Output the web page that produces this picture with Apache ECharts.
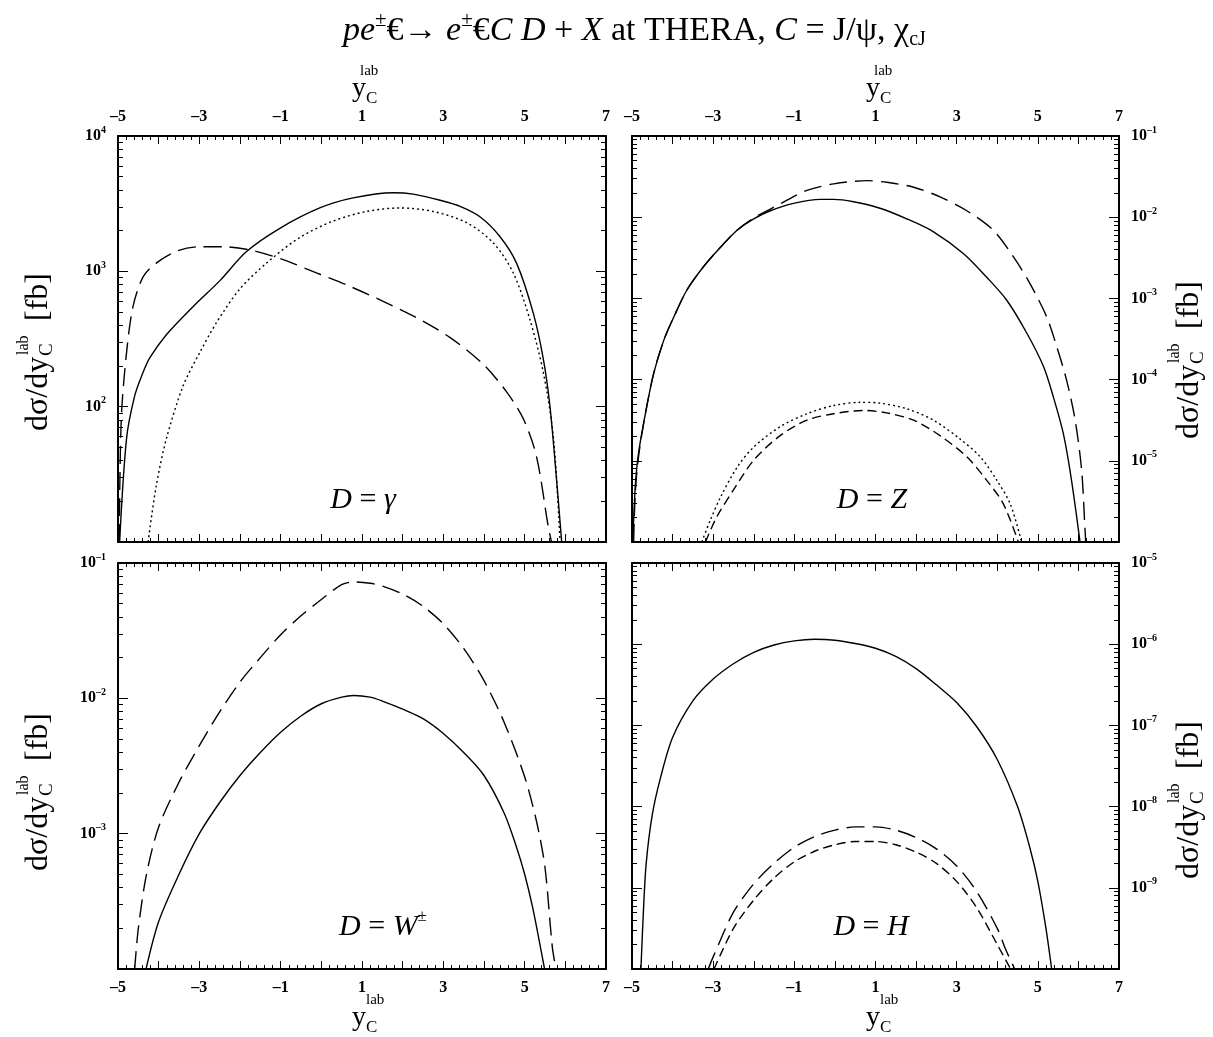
<!DOCTYPE html>
<html>
<head>
<meta charset="utf-8">
<script src="https://cdn.jsdelivr.net/npm/echarts@6/dist/echarts.min.js"></script>
<style>
html, body { margin: 0; padding: 0; background: #fff; }
#main { width: 1213px; height: 1037px; }
</style>
</head>
<body>
<div id="main"></div>
<script>
// ---- D = gamma (top left) ----
const gamSolidX = [-4.96, -4.79, -4.59, -4.40, -4.22, -3.81, -3.15, -2.50, -1.84, -1.02, -0.04, 0.78, 1.77, 2.26, 2.92, 3.41, 3.90, 4.39, 4.80, 5.21, 5.46, 5.62, 5.79, 5.91];
const gamSolidY = [10, 58, 120, 174, 229, 340, 550, 850, 1400, 2080, 2940, 3490, 3810, 3720, 3350, 3020, 2530, 1810, 1150, 493, 224, 102, 27.6, 10];
const gamDotX = [-4.26, -4.06, -3.81, -3.40, -2.99, -2.58, -2.01, -1.35, -0.53, 0.29, 1.11, 1.93, 2.75, 3.57, 4.23, 4.72, 5.13, 5.46, 5.71, 5.87];
const gamDotY = [10, 26, 58, 142, 251, 417, 737, 1150, 1780, 2350, 2770, 2940, 2770, 2290, 1620, 973, 439, 178, 58, 10];
const gamDashX = [-4.97, -4.92, -4.79, -4.63, -4.38, -4.06, -3.56, -2.99, -2.42, -1.76, -0.94, -0.12, 0.70, 1.52, 2.34, 3.16, 3.98, 4.56, 4.97, 5.29, 5.58, 5.66];
const gamDashY = [10, 81, 251, 550, 915, 1150, 1410, 1520, 1520, 1440, 1220, 973, 775, 600, 454, 325, 206, 128, 81, 43, 13, 10];

// ---- D = Z (top right) ----
const zSolidX = [-4.98, -4.92, -4.84, -4.67, -4.47, -4.22, -3.97, -3.65, -3.24, -2.82, -2.41, -2.00, -1.59, -1.02, -0.36, -0.03, 0.46, 1.11, 1.77, 2.43, 3.17, 3.74, 4.23, 4.73, 5.14, 5.38, 5.63, 5.83, 6.04];
const zSolidY = [1e-6, 4.79e-6, 1.23e-5, 3.80e-5, 1.17e-4, 3.02e-4, 5.89e-4, 1.26e-3, 2.45e-3, 4.27e-3, 6.92e-3, 9.55e-3, 1.20e-2, 1.48e-2, 1.66e-2, 1.66e-2, 1.55e-2, 1.29e-2, 9.55e-3, 6.61e-3, 3.55e-3, 1.82e-3, 9.55e-4, 3.72e-4, 1.45e-4, 6.17e-5, 2.14e-5, 5.75e-6, 1e-6];
const zDashX = [-4.96, -4.92, -4.84, -4.67, -4.47, -4.22, -3.97, -3.65, -3.24, -2.82, -2.41, -2.00, -1.59, -1.18, -0.69, -0.03, 0.79, 1.28, 1.94, 2.59, 3.25, 3.90, 4.40, 4.81, 5.22, 5.47, 5.71, 5.92, 6.08, 6.16, 6.18];
const zDashY = [1e-6, 3.98e-6, 1.12e-5, 3.80e-5, 1.17e-4, 3.02e-4, 5.89e-4, 1.26e-3, 2.45e-3, 4.27e-3, 6.92e-3, 9.77e-3, 1.26e-2, 1.62e-2, 2.14e-2, 2.57e-2, 2.82e-2, 2.69e-2, 2.34e-2, 1.78e-2, 1.20e-2, 6.92e-3, 3.24e-3, 1.51e-3, 5.89e-4, 2.51e-4, 9.77e-5, 3.16e-5, 7.59e-6, 1.51e-6, 1e-6];
const zDotX = [-3.28, -3.07, -2.82, -2.41, -2.00, -1.35, -0.69, -0.03, 0.62, 1.11, 1.77, 2.43, 3.08, 3.58, 3.99, 4.32, 4.60];
const zDotY = [1e-6, 1.86e-6, 3.55e-6, 8.32e-6, 1.48e-5, 2.63e-5, 3.80e-5, 4.79e-5, 5.25e-5, 5.13e-5, 4.37e-5, 3.16e-5, 1.86e-5, 1.12e-5, 5.75e-6, 2.95e-6, 1e-6];
const zShortX = [-3.19, -2.91, -2.50, -2.00, -1.35, -0.69, -0.03, 0.70, 1.28, 1.94, 2.59, 3.25, 3.74, 4.15, 4.52];
const zShortY = [1e-6, 2.04e-6, 4.37e-6, 1.02e-5, 2.04e-5, 3.16e-5, 3.80e-5, 4.17e-5, 3.89e-5, 3.16e-5, 2.04e-5, 1.12e-5, 5.75e-6, 2.95e-6, 1e-6];

// ---- D = W (bottom left) ----
const wSolidX = [-4.31, -4.0, -3.5, -3.0, -2.5, -2.0, -1.5, -1.0, -0.5, 0, 0.5, 0.8, 1.2, 1.5, 2.0, 2.5, 3.0, 3.5, 4.0, 4.5, 4.8, 5.0, 5.2, 5.35, 5.49];
const wSolidY = [1e-4, 2.24e-4, 5.01e-4, 1.0e-3, 1.70e-3, 2.69e-3, 3.98e-3, 5.62e-3, 7.41e-3, 9.12e-3, 1.02e-2, 1.05e-2, 1.02e-2, 9.55e-3, 8.32e-3, 7.08e-3, 5.50e-3, 3.98e-3, 2.69e-3, 1.41e-3, 7.94e-4, 5.01e-4, 2.82e-4, 1.66e-4, 1e-4];
const wDashX = [-4.59, -4.5, -4.3, -4.0, -3.5, -3.0, -2.5, -2.0, -1.5, -1.0, -0.5, 0, 0.5, 0.8, 1.2, 1.5, 2.0, 2.5, 3.0, 3.5, 4.0, 4.5, 5.0, 5.3, 5.5, 5.68, 5.77];
const wDashY = [1e-4, 2.0e-4, 5.0e-4, 1.12e-3, 2.40e-3, 4.47e-3, 7.94e-3, 1.32e-2, 2.0e-2, 2.95e-2, 4.07e-2, 5.37e-2, 6.92e-2, 7.24e-2, 7.08e-2, 6.76e-2, 5.89e-2, 4.79e-2, 3.55e-2, 2.34e-2, 1.35e-2, 6.61e-3, 2.63e-3, 1.20e-3, 5.62e-4, 1.45e-4, 1e-4];

// ---- D = H (bottom right) ----
const hSolidX = [-4.78, -4.72, -4.65, -4.5, -4.3, -4.0, -3.5, -3.0, -2.5, -2.0, -1.5, -1.0, -0.5, 0, 0.5, 1.0, 1.5, 2.0, 2.5, 3.0, 3.5, 4.0, 4.5, 4.8, 5.0, 5.2, 5.34];
const hSolidY = [1e-10, 5.0e-10, 2.0e-9, 7.94e-9, 2.24e-8, 7.08e-8, 2.0e-7, 3.72e-7, 5.75e-7, 7.94e-7, 9.77e-7, 1.10e-6, 1.15e-6, 1.12e-6, 1.02e-6, 8.91e-7, 7.08e-7, 5.01e-7, 3.16e-7, 1.91e-7, 9.55e-8, 3.80e-8, 1.0e-8, 3.16e-9, 1.20e-9, 3.16e-10, 1e-10];
const hDashX = [-3.12, -3.0, -2.5, -2.0, -1.5, -1.0, -0.5, 0, 0.5, 1.0, 1.5, 2.0, 2.5, 3.0, 3.5, 4.0, 4.2, 4.43];
const hDashY = [1e-10, 1.41e-10, 5.01e-10, 1.12e-9, 2.0e-9, 3.16e-9, 4.27e-9, 5.13e-9, 5.62e-9, 5.62e-9, 5.13e-9, 4.17e-9, 3.02e-9, 1.86e-9, 8.91e-10, 3.16e-10, 1.78e-10, 1e-10];
const hShortX = [-2.98, -2.5, -2.0, -1.5, -1.0, -0.5, 0, 0.5, 1.0, 1.5, 2.0, 2.5, 3.0, 3.5, 4.0, 4.33];
const hShortY = [1e-10, 3.16e-10, 7.08e-10, 1.32e-9, 2.09e-9, 2.82e-9, 3.39e-9, 3.72e-9, 3.72e-9, 3.39e-9, 2.75e-9, 2.0e-9, 1.20e-9, 5.62e-10, 2.0e-10, 1e-10];

// axis ranges of the four panels
const xRange = [-5, 7];
const yRanges = [[1e1, 1e4], [1e-6, 1e-1], [1e-4, 1e-1], [1e-10, 1e-5]];
const panelLabels = ['γ', 'Z', 'W', 'H'];

const FONT = '"Liberation Serif", "Times New Roman", serif';
const chart = echarts.init(document.getElementById('main'));

const grids = [
    { left: 118, top: 136, width: 488, height: 406 },
    { left: 632, top: 136, width: 487, height: 406 },
    { left: 118, top: 563, width: 488, height: 406 },
    { left: 632, top: 563, width: 487, height: 406 }
];

function xLabel(v) {
    if (Math.abs(Math.round(v) % 2) !== 1) return '';
    return v < 0 ? '\u2013' + (-v) : String(v);
}
function powLabel(v) {
    const n = Math.round(Math.log10(v));
    return '{b|10}{s|' + (n < 0 ? '\u2013' + (-n) : n) + '}';
}

const xAxes = [], yAxes = [];
grids.forEach(function (g, gi) {
    const topRow = gi < 2;
    ['bottom', 'top'].forEach(function (pos) {
        xAxes.push({
            type: 'value', gridIndex: gi, position: pos,
            min: xRange[0], max: xRange[1], interval: 1,
            axisLine: { show: true, onZero: false, lineStyle: { color: '#000', width: 2 } },
            axisTick: { show: true, inside: true, length: 8, lineStyle: { color: '#000', width: 1 } },
            minorTick: { show: true, splitNumber: 5, length: 4, lineStyle: { color: '#000', width: 1 } },
            splitLine: { show: false },
            axisLabel: {
                show: (pos === 'top') === topRow,
                margin: 11, formatter: xLabel,
                color: '#000', fontFamily: FONT, fontWeight: 'bold', fontSize: 16
            }
        });
    });
    const side = gi % 2 === 0 ? 'left' : 'right';
    ['left', 'right'].forEach(function (pos) {
        yAxes.push({
            type: 'log', logBase: 10, gridIndex: gi, position: pos,
            min: yRanges[gi][0], max: yRanges[gi][1],
            axisLine: { show: true, onZero: false, lineStyle: { color: '#000', width: 2 } },
            axisTick: { show: true, inside: true, length: 10, lineStyle: { color: '#000', width: 1 } },
            minorTick: { show: true, splitNumber: 9, length: 5, lineStyle: { color: '#000', width: 1 } },
            splitLine: { show: false },
            axisLabel: {
                show: pos === side, showMinLabel: false, margin: 12,
                formatter: powLabel,
                rich: {
                    b: { fontFamily: FONT, fontWeight: 'bold', fontSize: 16, color: '#000' },
                    s: { fontFamily: FONT, fontWeight: 'bold', fontSize: 10, color: '#000', padding: [0, 0, 12, 0] }
                }
            }
        });
    });
});

function curve(gi, xs, ys, dash) {
    return {
        type: 'line', xAxisIndex: gi * 2, yAxisIndex: gi * 2,
        data: xs.map(function (x, i) { return [x, ys[i]]; }),
        showSymbol: false, smooth: 0.3, silent: true,
        lineStyle: { color: '#000', width: 1.4, type: dash }
    };
}

const LONG = [18, 8], DOT = [2, 3], SHORT = [9, 5];
const series = [
    curve(0, gamSolidX, gamSolidY, 'solid'),
    curve(0, gamDotX, gamDotY, DOT),
    curve(0, gamDashX, gamDashY, LONG),
    curve(1, zSolidX, zSolidY, 'solid'),
    curve(1, zDashX, zDashY, LONG),
    curve(1, zDotX, zDotY, DOT),
    curve(1, zShortX, zShortY, SHORT),
    curve(2, wSolidX, wSolidY, 'solid'),
    curve(2, wDashX, wDashY, LONG),
    curve(3, hSolidX, hSolidY, 'solid'),
    curve(3, hDashX, hDashY, LONG),
    curve(3, hShortX, hShortY, SHORT)
];

function txt(text, x, y, size, style, align) {
    return {
        type: 'text', style: {
            text: text, x: x, y: y, fill: '#000',
            font: (style || '') + ' ' + size + 'px ' + FONT,
            textAlign: align || 'left', align: align || 'left',
            textVerticalAlign: 'middle', verticalAlign: 'middle'
        }
    };
}
// rotated y title: d sigma / dy_C^lab [fb]
function yName(cx, cy) {
    return {
        type: 'group', x: cx, y: cy, rotation: Math.PI / 2,
        children: [
            txt('dσ/dy', -79, 0, 32),
            txt('C', -4, 8, 19),
            txt('lab', -3, -15, 16),
            txt('[fb]', 31, 0, 32)
        ]
    };
}
// x title: y_C^lab
function xName(x, yMain, top) {
    return {
        type: 'group', x: x, y: yMain,
        children: [
            txt('y', 0, 0, 28),
            txt('C', 14, 10, 17),
            txt('lab', top ? 8 : 14, -18, 15)
        ]
    };
}
function panelLabel(gi, cx, cy) {
    const d = panelLabels[gi];
    return {
        type: 'text', x: cx, y: cy,
        style: {
            text: '{i|D}{r| = }{i|' + d + '}' + (d === 'W' ? '{s|±}' : ''),
            fill: '#000', align: 'center', verticalAlign: 'middle',
            textAlign: 'center', textVerticalAlign: 'middle',
            rich: {
                i: { fontFamily: FONT, fontStyle: 'italic', fontSize: 30, color: '#000' },
                r: { fontFamily: FONT, fontSize: 30, color: '#000' },
                s: { fontFamily: FONT, fontSize: 17, color: '#000', padding: [0, 0, 20, 0] }
            }
        }
    };
}

const option = {
    backgroundColor: '#fff',
    animation: false,
    title: {
        left: 338, top: 5,
        text: '{i|pe}{sup|±}{r|€→ }{i|e}{sup|±}{r|€}{i|C D}{r| + }{i|X}{r| at THERA, }{i|C}{r| = J/ψ, χ}{sub|cJ}',
        textStyle: {
            fontWeight: 'normal',
            rich: {
                i: { fontFamily: FONT, fontStyle: 'italic', fontWeight: 'normal', fontSize: 34, color: '#000' },
                r: { fontFamily: FONT, fontWeight: 'normal', fontSize: 34, color: '#000' },
                sup: { fontFamily: FONT, fontWeight: 'normal', fontSize: 21, color: '#000', padding: [0, 0, 22, 0] },
                sub: { fontFamily: FONT, fontWeight: 'normal', fontSize: 20, color: '#000', padding: [16, 0, 0, 0] }
            }
        }
    },
    grid: grids.map(function (g) { return Object.assign({ show: false }, g); }),
    xAxis: xAxes,
    yAxis: yAxes,
    series: series,
    graphic: [
        yName(39, 352), yName(1190, 360),
        yName(39, 792), yName(1190, 800),
        xName(352, 89, true), xName(866, 89, true),
        xName(352, 1018, false), xName(866, 1018, false),
        panelLabel(0, 363, 500), panelLabel(1, 872, 500),
        panelLabel(2, 383, 927), panelLabel(3, 871, 927)
    ]
};
chart.setOption(option);
</script>
</body>
</html>
